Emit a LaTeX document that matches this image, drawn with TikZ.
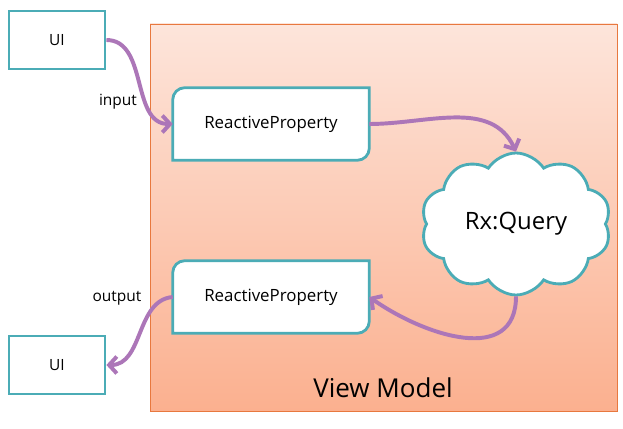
\documentclass[tikz,border=0pt]{standalone}
\usepackage{fontspec}
\setmainfont{Open Sans}
\usetikzlibrary{shapes.symbols,arrows.meta,calc}
\definecolor{boxteal}{RGB}{75,172,182}
\definecolor{flowpurple}{RGB}{172,118,184}
\definecolor{vmtop}{RGB}{253,229,219}
\definecolor{vmbottom}{RGB}{251,176,143}
\definecolor{vmedge}{RGB}{232,120,62}

\begin{document}
\begin{tikzpicture}[
    uibox/.style={draw=boxteal, line width=2pt, fill=white, minimum width=2.4cm, minimum height=1.45cm, font=\fontsize{11}{13}\selectfont},
    rpbox/.style={minimum width=4.9cm, minimum height=1.8cm},
    rpline/.style={draw=boxteal, line width=2pt, fill=white},
    flow/.style={draw=flowpurple, line width=2.8pt, -{Straight Barb[length=5.5pt,width=12pt]}},
    small/.style={font=\fontsize{11}{13}\selectfont}
  ]
    \useasboundingbox[fill=white] (0,0) rectangle (15.575,10.7);

    % View Model area
    \node[draw=vmedge, line width=0.7pt, top color=vmtop, bottom color=vmbottom, minimum width=11.675cm, minimum height=9.675cm] (vm) at (9.5875,5.2625) {};
    \node[font=\fontsize{18.5}{21}\selectfont] (vmlabel) at (9.575,1.0) {View Model};

    % UI boxes
    \node[uibox] (uitop) at (1.425,9.7) {UI};
    \node[uibox] (uibot) at (1.425,1.575) {UI};

    % ReactiveProperty boxes (round diagonal corners)
    \node[rpbox] (rpin) at (6.775,7.6) {};
    \draw[rpline] ($(rpin.north west)+(0,-0.3)$) arc[start angle=180, end angle=90, radius=0.3] -- (rpin.north east) -- ($(rpin.south east)+(0,0.3)$) arc[start angle=0, end angle=-90, radius=0.3] -- (rpin.south west) -- cycle;
    \node[font=\fontsize{12}{14}\selectfont] (rpintext) at (rpin) {ReactiveProperty};

    \node[rpbox] (rpout) at (6.775,3.275) {};
    \draw[rpline] ($(rpout.north west)+(0,-0.3)$) arc[start angle=180, end angle=90, radius=0.3] -- (rpout.north east) -- ($(rpout.south east)+(0,0.3)$) arc[start angle=0, end angle=-90, radius=0.3] -- (rpout.south west) -- cycle;
    \node[font=\fontsize{12}{14}\selectfont] (rpouttext) at (rpout) {ReactiveProperty};

    % Query cloud
    \node[cloud, cloud puffs=10, cloud puff arc=115, cloud ignores aspect, draw=boxteal, line width=2pt, fill=white, minimum width=4.75cm, minimum height=3.55cm, font=\fontsize{17}{20}\selectfont] (query) at (12.9,5.1) {Rx:Query};

    % Data flow
    \draw[flow] (uitop.east) to[out=0, in=180] (rpin.west);
    \draw[flow] (rpin.east) to[out=0, in=115] (query.north);
    \draw[flow] (query.south) to[out=-90, in=-35, looseness=1.2] (rpout.east);
    \draw[flow] (rpout.west) to[out=185, in=0] (uibot.east);

    % Flow labels
    \node[small] (inlabel) at (2.95,8.15) {input};
    \node[small] (outlabel) at (2.925,3.25) {output};
  \end{tikzpicture}
\end{document}
